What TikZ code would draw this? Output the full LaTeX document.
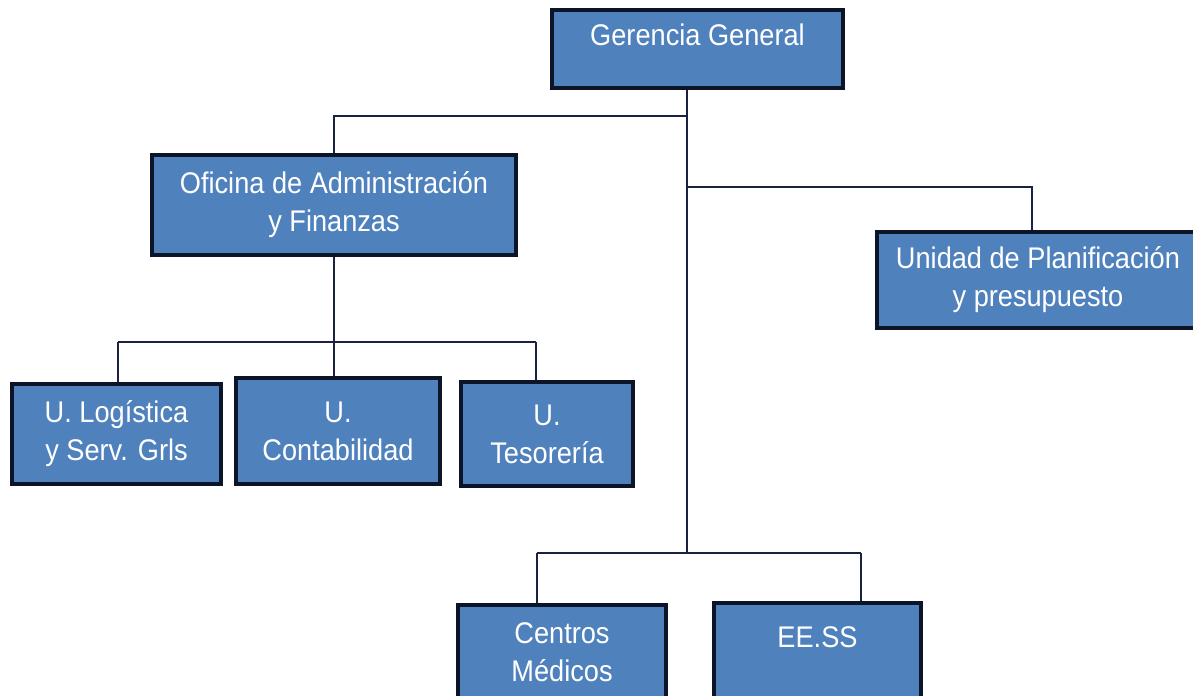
\documentclass[tikz,border=0pt]{standalone}
\usepackage{fontspec}
\setmainfont{Liberation Sans}[FakeStretch=0.91]
\usepackage{tikz}
\usetikzlibrary{positioning, calc}

\definecolor{boxblue}{RGB}{79,129,189}
\definecolor{boxedge}{RGB}{12,20,40}
\definecolor{linkcol}{RGB}{25,35,65}

\begin{document}
\begin{tikzpicture}[
    x=0.02cm, y=-0.02cm,
    box/.style={rectangle, draw=boxedge, fill=boxblue, line width=2.2pt,
                text=white, align=center, inner sep=2pt,
                font=\fontsize{17}{21.6}\selectfont},
    link/.style={draw=linkcol, line width=0.9pt}
]
    \useasboundingbox (0,0) rectangle (1193,696);
    \clip (0,0) rectangle (1193,696);

    % Top level
    \node[box, minimum width=5.82cm, minimum height=1.56cm, text depth=16pt] (gg) at (697.5,49) {Gerencia General};

    % Second level
    \node[box, minimum width=7.28cm, minimum height=2.0cm] (of) at (334,205) {Oficina de Administración\\y Finanzas};
    \node[box, minimum width=6.44cm, minimum height=1.92cm] (up) at (1038,280) {Unidad de Planificación\\y presupuesto};

    % Units under the office
    \node[box, minimum width=4.18cm, minimum height=2.0cm] (ul) at (116.5,434) {U. Logística\\y Serv. Grls};
    \node[box, minimum width=4.08cm, minimum height=2.12cm] (uc) at (338,431) {U.\\Contabilidad};
    \node[box, minimum width=3.44cm, minimum height=2.08cm] (ut) at (547,434) {U.\\Tesorería};

    % Bottom level
    \node[box, minimum width=4.16cm, minimum height=1.90cm] (cm) at (562,652.5) {Centros\\Médicos};
    \node[box, minimum width=4.14cm, minimum height=1.94cm, text depth=16pt] (ee) at (817.5,651.5) {EE.SS};

    % Trunk
    \coordinate (t1) at (687,116);
    \coordinate (t2) at (687,187);
    \coordinate (t3) at (687,553);
    \draw[link] (gg.south -| t1) -- (t3);
    \draw[link] (t1) -| (of.north);
    \draw[link] (t2) -| (1032,0 |- up.north);

    % Office branch
    \coordinate (b1) at (118,342);
    \coordinate (b2) at (536,342);
    \draw[link] (of.south) -- (of.south |- uc.north);
    \draw[link] (b1) -- (b2);
    \draw[link] (b1) -- (b1 |- ul.north);
    \draw[link] (b2) -- (b2 |- ut.north);

    % Bottom branch
    \coordinate (c1) at (537,553);
    \coordinate (c2) at (861,553);
    \draw[link] (c1) -- (c2);
    \draw[link] (c1) -- (c1 |- cm.north);
    \draw[link] (c2) -- (c2 |- ee.north);

\end{tikzpicture}
\end{document}
